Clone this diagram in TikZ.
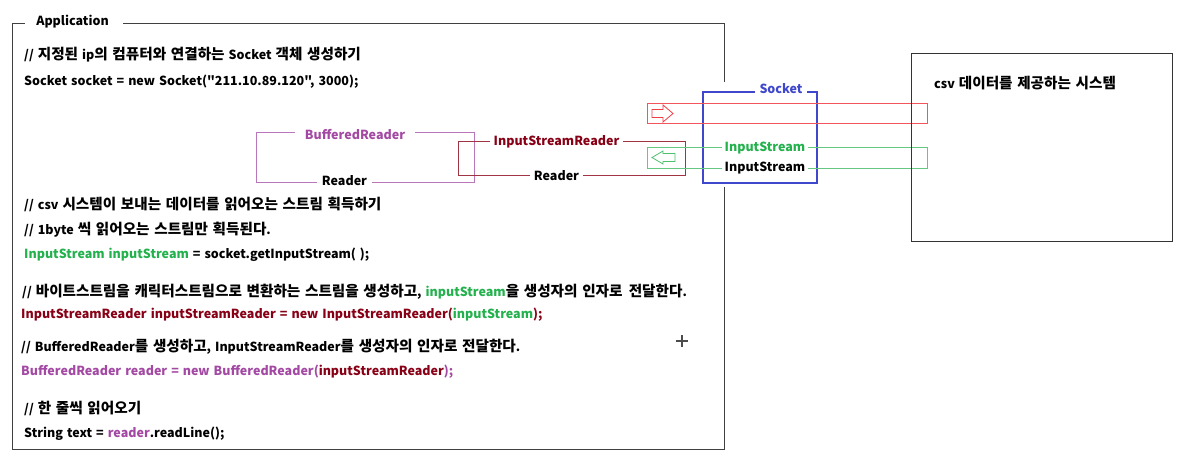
\documentclass[tikz,border=0pt]{standalone}
\usepackage{fontspec}
\setmainfont{Noto Sans CJK KR}[Ligatures=TeXOff, WordSpace=1.4]
\definecolor{cgreen}{HTML}{22B14C}
\definecolor{cred}{HTML}{ED1C24}
\definecolor{cdred}{HTML}{880015}
\definecolor{cblue}{HTML}{3F48CC}
\definecolor{cpurple}{HTML}{A349A4}
\newcommand\fsz{\fontsize{12.5}{15}\selectfont\bfseries}
\newcommand\kr[1]{{\fontsize{14.6}{15}\selectfont #1}}
\tikzset{
  txt/.style={anchor=base west, inner sep=0pt, font=\fsz, text=black},
  gaplbl/.style={anchor=base, fill=white, inner sep=0pt, minimum height=13pt, font=\fsz},
  boxnode/.style={draw, rectangle, inner sep=0pt, line width=1pt},
}
\begin{document}
\begin{tikzpicture}[x=1pt,y=-1pt]
\useasboundingbox[fill=white] (0,0) rectangle (1190,461);

% Application frame
\coordinate (apTL) at (12,23);
\coordinate (apBR) at (724,449);
\draw[line width=1pt, black!75] (25,23) -- (apTL) -- (12,449) -- (apBR) -- (724,187);
\draw[line width=1pt, black!75] (724,82) -- (724,23) -- (123,23);
\node[txt, anchor=base] (aplbl) at (72.5,25) {Application};

% code text
\node[txt] (l1) at (24,59) {// \kr{지정된} ip\kr{의 컴퓨터와 연결하는} Socket \kr{객체 생성하기}};
\node[txt] (l2) at (24,85) {Socket socket = new Socket("211.10.89.120", 3000);};
\node[txt] (l3) at (24,209) {// csv \kr{시스템이 보내는 데이터를 읽어오는 스트림 획득하기}};
\node[txt] (l4) at (24,234) {// 1byte \kr{씩 읽어오는 스트림만 획득된다}.};
\node[txt] (l5) at (24,258) {\textcolor{cgreen}{InputStream inputStream} = socket.getInputStream( );};
\node[txt] (l6) at (22,296.5) {// \kr{바이트스트림을 캐릭터스트림으로 변환하는 스트림을 생성하고}, \textcolor{cgreen}{inputStream}\kr{을 생성자의 인자로\hspace{1.5pt} 전달한다}.};
\node[txt, text=cdred] (l7) at (21,318) {InputStreamReader inputStreamReader = new InputStreamReader(\textcolor{cgreen}{inputStream});};
\node[txt] (l8) at (21,351) {// BufferedReader\kr{를 생성하고}, InputStreamReader\kr{를 생성자의 인자로 전달한다}.};
\node[txt, text=cpurple] (l9) at (21,375) {BufferedReader reader = new BufferedReader(\textcolor{cdred}{inputStreamReader});};
\node[txt] (l10) at (24,413) {// \kr{한 줄씩 읽어오기}};
\node[txt] (l11) at (24,437) {String text = \textcolor{cpurple}{reader}.readLine();};

% BufferedReader box
\node[boxnode, draw=cpurple!75, minimum width=218pt, minimum height=50pt] (buf) at (365,157) {};
\node[gaplbl, text=cpurple, minimum width=120pt] (bufl) at (355,139) {BufferedReader};
\node[gaplbl, minimum width=55pt] (bufr) at (344.5,185) {Reader};

% InputStreamReader box
\node[boxnode, draw=cdred!80, minimum width=227pt, minimum height=34pt] (isr) at (571.5,158) {};
\node[gaplbl, text=cdred, minimum width=133pt] (isrl) at (556.5,145) {InputStreamReader};
\node[gaplbl, minimum width=53pt] (isrr) at (556.5,180) {Reader};

% Socket box
\node[boxnode, draw=cblue, line width=2pt, fill=white, minimum width=114pt, minimum height=91pt] (sock) at (760,137.5) {};
\node[gaplbl, text=cblue, minimum width=52pt] (sockl) at (781,93) {Socket};

% channels
\node[boxnode, draw=cred!75, minimum width=280pt, minimum height=20pt] (rch) at (787,113) {};
\draw[cred!85, line width=0.8pt, line join=miter] (652,109.5) -- (663,109.5) -- (663,105) -- (673,113.5) -- (663,122) -- (663,117.5) -- (652,117.5) -- cycle;
\node[boxnode, draw=cgreen!70, minimum width=280pt, minimum height=21pt] (gch) at (787,157.5) {};
\draw[cgreen!80, line width=0.8pt, line join=miter] (675,153.5) -- (663,153.5) -- (663,151) -- (652,157.5) -- (663,164) -- (663,161.5) -- (675,161.5) -- cycle;
\node[gaplbl, text=cgreen, minimum width=86pt] (gin) at (765,151) {InputStream};
\node[gaplbl, minimum width=86pt] (bin) at (765,171) {InputStream};

% csv system box
\node[boxnode, draw=black!80, minimum width=261pt, minimum height=188pt] (csv) at (1041.5,147) {};
\node[txt] (csvl) at (934,88) {csv \kr{데이터를 제공하는 시스템}};

% cursor mark
\draw[black!70, line width=1.2pt] (676,341) -- (688,341) (682,335) -- (682,347);
\end{tikzpicture}
\end{document}
